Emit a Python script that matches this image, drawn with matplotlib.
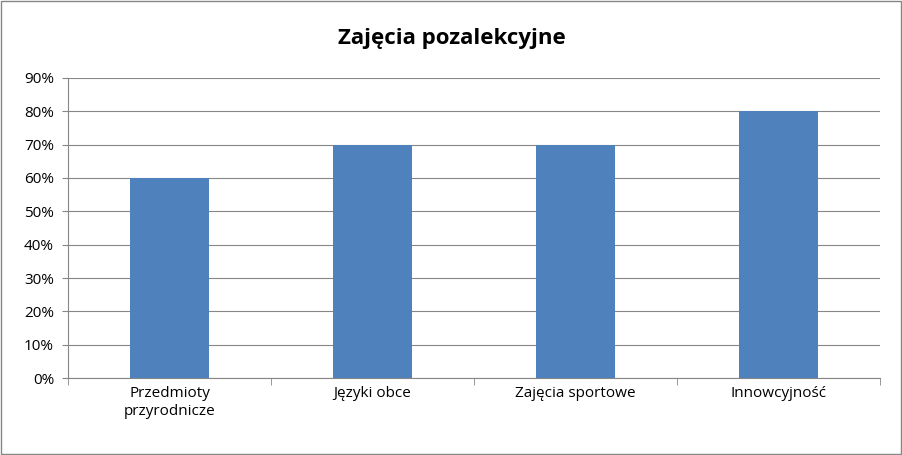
import matplotlib
matplotlib.use("Agg")
import matplotlib.pyplot as plt
from matplotlib.patches import Rectangle

categories = ["Przedmioty\nprzyrodnicze", "Języki obce", "Zajęcia sportowe", "Innowcyjność"]
values = [60, 70, 70, 80]
yticks = [0, 10, 20, 30, 40, 50, 60, 70, 80, 90]

plt.rcParams['font.family'] = ['Open Sans', 'DejaVu Sans']
fig = plt.figure(figsize=(9.03, 4.55), dpi=100)
ax = fig.add_axes([0.0753, 0.1692, 0.8992, 0.6594])
x = range(len(categories))
ax.bar(x, values, width=0.39, color="#4F81BD", zorder=3)
ax.set_xlim(-0.5, len(categories) - 0.5)
ax.set_ylim(0, 90)
ax.set_yticks(yticks)
ax.set_yticklabels([f"{v}%" for v in yticks], fontsize=11)
ax.set_xticks(list(x))
ax.set_xticklabels(categories, fontsize=11)
ax.grid(axis='y', color="#868686", linewidth=0.8, zorder=0)
for s in ['top', 'right']:
    ax.spines[s].set_visible(False)
ax.spines['left'].set_color("#868686")
ax.spines['bottom'].set_color("#868686")
ax.tick_params(axis='y', length=4, color="#868686", pad=6)
ax.tick_params(axis='x', length=0, pad=6)
ax.set_xticks([i + 0.5 for i in range(-1, len(categories))], minor=True)
ax.tick_params(axis='x', which='minor', length=5, color="#868686")
fig.text(0.5, 0.915, "Zajęcia pozalekcyjne", ha='center', va='center', fontsize=16, fontweight='bold')
fig.patches.append(Rectangle((0.001, 0.002), 0.997, 0.995, transform=fig.transFigure,
                             fill=False, edgecolor="#868686", linewidth=1))
fig.savefig("out.png", dpi=100)
